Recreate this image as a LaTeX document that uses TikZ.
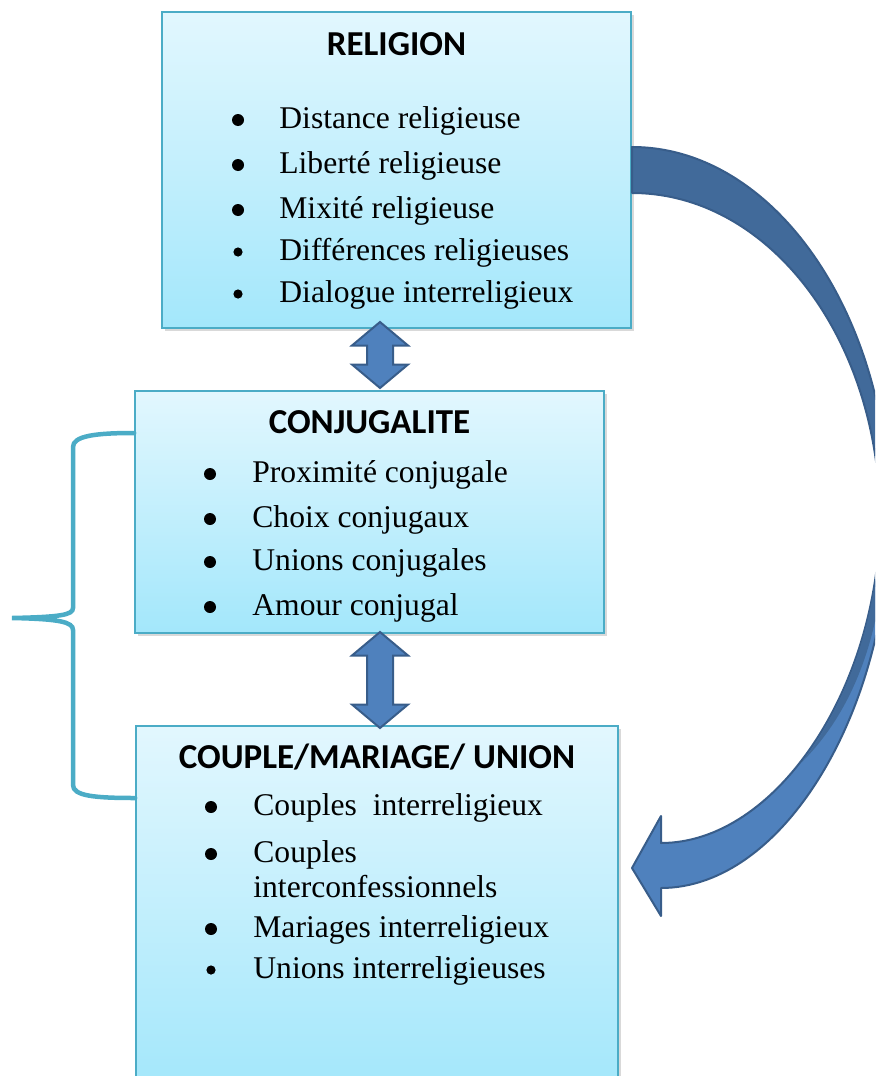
\documentclass[tikz,border=0pt]{standalone}
\usepackage{fontspec}
\setmainfont{Liberation Serif}
\newfontfamily\headfont{Carlito}
\usetikzlibrary{shapes.arrows}
\usetikzlibrary{shadows}

\definecolor{boxtop}{HTML}{E2F7FE}
\definecolor{boxbot}{HTML}{A3E7FB}
\definecolor{boxline}{HTML}{4BACC6}
\definecolor{arrfill}{HTML}{4F81BD}
\definecolor{arrdark}{HTML}{416A9A}
\definecolor{arrline}{HTML}{385D8A}

\begin{document}
\begin{tikzpicture}[x=.5pt, y=-.5pt,
    box/.style={draw=boxline, line width=.8pt, top color=boxtop, bottom color=boxbot,
        drop shadow={shadow xshift=1.5pt, shadow yshift=-1.5pt, opacity=.3}},
    head/.style={anchor=base, inner sep=0pt, font=\headfont\bfseries\fontsize{17.5}{21}\selectfont},
    item/.style={anchor=base west, inner sep=0pt, font=\fontsize{15.8}{19}\selectfont},
    dot/.style={circle, fill=black, inner sep=0pt, minimum size=#1},
    dblarrow/.style={double arrow, rotate=90, draw=arrline, line width=1pt, fill=arrfill,
        inner xsep=0pt, inner ysep=6pt, double arrow head extend=7.5pt, double arrow tip angle=100},
    curvearrow/.style={draw=arrline, line width=1pt, line join=round},
    brace/.style={draw=boxline, line width=2.25pt, line cap=round}]
    \useasboundingbox (0,0) rectangle (875,1076);
    \clip (0,0) rectangle (875,1076);

    % boxes
    \node[box, minimum width=234.5pt, minimum height=158pt] (rel) at (396.5,170) {};
    \node[box, minimum width=234.5pt, minimum height=121pt] (conj) at (369.5,512) {};
    \node[box, minimum width=241pt, minimum height=182pt] (coup) at (377,908) {};

    \node[head] (relt) at (rel.center |- 0,55) {RELIGION};
    \node[head] (conjt) at (conj.center |- 0,433) {CONJUGALITE};
    \node[head] (coupt) at (coup.center |- 0,768) {COUPLE/MARIAGE/ UNION};

    \foreach \yy/\bs/\txt [count=\i] in {128/6pt/Distance religieuse, 173/6pt/Liberté religieuse,
        218/6pt/Mixité religieuse, 260/4.6pt/Différences religieuses, 302/4.6pt/Dialogue interreligieux} {
        \node[dot=\bs] (rb\i) at (238,\yy-8) {};
        \node[item] (ri\i) at (279,\yy) {\txt};
    }
    \foreach \yy/\txt [count=\i] in {482/Proximité conjugale, 527/Choix conjugaux,
        570/Unions conjugales, 615/Amour conjugal} {
        \node[dot=6pt] (jb\i) at (210,\yy-8) {};
        \node[item] (ji\i) at (252,\yy) {\txt};
    }
    \foreach \yy/\bs/\txt [count=\i] in {815/6pt/Couples~~interreligieux, 862/6pt/Couples,
        937/6pt/Mariages interreligieux, 978/4.6pt/Unions interreligieuses} {
        \node[dot=\bs] (cb\i) at (211,\yy-8) {};
        \node[item] (ci\i) at (253,\yy) {\txt};
    }
    \node[item] (ci2b) at (253,897) {interconfessionnels};

    % curved arrow, lower part first
    \filldraw[curvearrow, fill=arrfill] (890,520) .. controls (887,715) and (782,888) .. (661,888)
        -- (661,916) -- (632,868) -- (661,816) -- (661,843)
        .. controls (775,843) and (878,690) .. (880,520) -- cycle;
    \fill[arrdark] (880,520) .. controls (879,615) and (848,702) .. (802,762)
        .. controls (854,710) and (885,630) .. (886,520) -- cycle;
    \filldraw[curvearrow, fill=arrdark] (632,147) .. controls (774,147) and (890,314) .. (890,520)
        -- (880,520) .. controls (880,339) and (769,193) .. (632,193) -- cycle;

    % double arrows
    \node[dblarrow, minimum height=33pt, minimum width=27pt] (a1) at (380,355) {};
    \node[dblarrow, minimum height=48pt, minimum width=27pt] (a2) at (380,680) {};

    % brace
    \draw[brace] (conj.west |- 0,433) .. controls (95,433) and (73,436) .. (73,447)
        -- (73,608) .. controls (73,615) and (60,617) .. (12,618)
        .. controls (60,619) and (73,622) .. (73,630)
        -- (73,785) .. controls (73,796) and (95,798) .. (coup.west |- 0,798);
\end{tikzpicture}
\end{document}
